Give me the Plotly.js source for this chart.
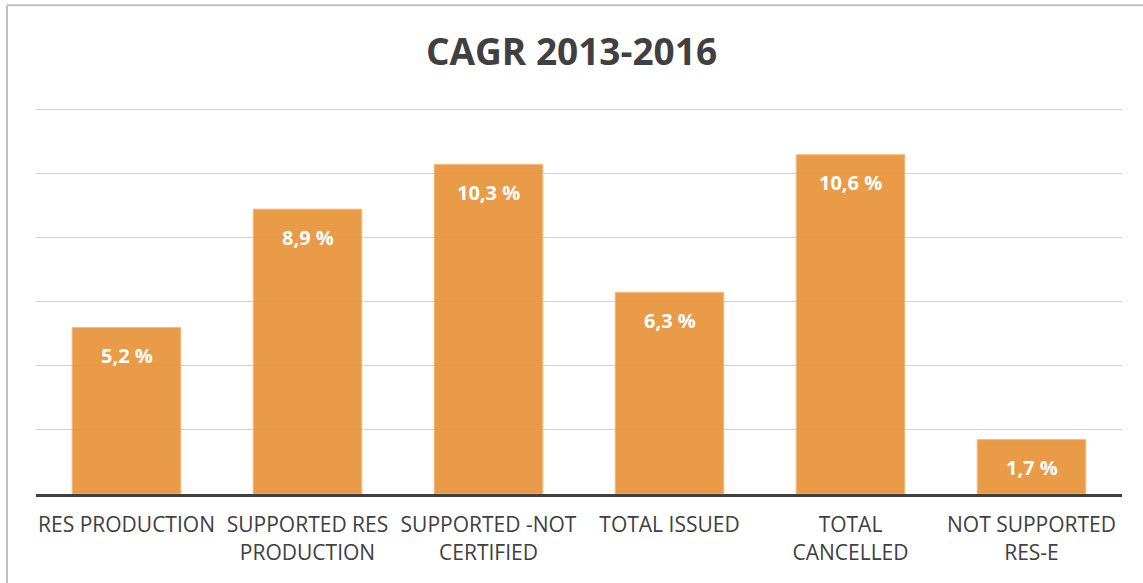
<!DOCTYPE html>
<html>
<head>
<meta charset="utf-8">
<script src="https://cdn.plot.ly/plotly-3.0.1.min.js"></script>
<style>
  html, body { margin: 0; padding: 0; background: #fff; }
  #chart { width: 1143px; height: 583px; }
</style>
</head>
<body>
<div id="chart"></div>
<script>
const categories = ["RES PRODUCTION", "SUPPORTED RES<br>PRODUCTION", "SUPPORTED -NOT<br>CERTIFIED",
                    "TOTAL ISSUED", "TOTAL<br>CANCELLED", "NOT SUPPORTED<br>RES-E"];
const cagrValues = [5.2, 8.9, 10.3, 6.3, 10.6, 1.7];
const valueLabels = ["5,2 %", "8,9 %", "10,3 %", "6,3 %", "10,6 %", "1,7 %"];

const barColor = "#E8943A";
const textColor = "#404040";

const trace = {
    x: categories,
    y: cagrValues,
    type: "bar",
    marker: { color: barColor, opacity: 0.93, line: { color: "#F0B877", width: 1 } },
    hoverinfo: "skip",
    showlegend: false,
};

// value labels sit inside each bar, a bit under its top
const labels = categories.map((c, i) => ({
    x: c,
    y: cagrValues[i],
    yshift: -28,
    yanchor: "middle",
    text: "<b>" + valueLabels[i] + "</b>",
    showarrow: false,
    font: { family: "Open Sans", size: 20, color: "#ffffff" },
}));

const layout = {
    width: 1143,
    height: 583,
    margin: { l: 36, r: 21, t: 108, b: 89 },
    paper_bgcolor: "#ffffff",
    plot_bgcolor: "#ffffff",
    bargap: 0.4,
    title: {
        text: "<b>CAGR 2013-2016</b>",
        font: { family: "Open Sans", size: 37, color: textColor },
        x: 0.5,
        xanchor: "center",
        y: 0.91,
        yanchor: "middle",
    },
    xaxis: {
        type: "category",
        showgrid: false,
        showline: true,
        linecolor: "#404040",
        linewidth: 3,
        ticks: "",
        ticklabelstandoff: 10,
        tickfont: { family: "Open Sans", size: 21, color: textColor },
    },
    yaxis: {
        range: [0, 12.06],
        tickvals: [2, 4, 6, 8, 10, 12],
        showticklabels: false,
        showgrid: true,
        gridcolor: "#d3d3d3",
        gridwidth: 1,
        zeroline: false,
        fixedrange: true,
    },
    annotations: labels,
    shapes: [
        // chart frame, left and top edges only are visible
        { type: "line", xref: "paper", yref: "paper", x0: -0.0267, x1: -0.0267, y0: -0.3, y1: 1.266,
          line: { color: "#bfbfbf", width: 2 } },
        { type: "line", xref: "paper", yref: "paper", x0: -0.0267, x1: 1.05, y0: 1.266, y1: 1.266,
          line: { color: "#bfbfbf", width: 2 } },
    ],
};

Plotly.newPlot("chart", [trace], layout, { staticPlot: true, displayModeBar: false });
</script>
</body>
</html>
